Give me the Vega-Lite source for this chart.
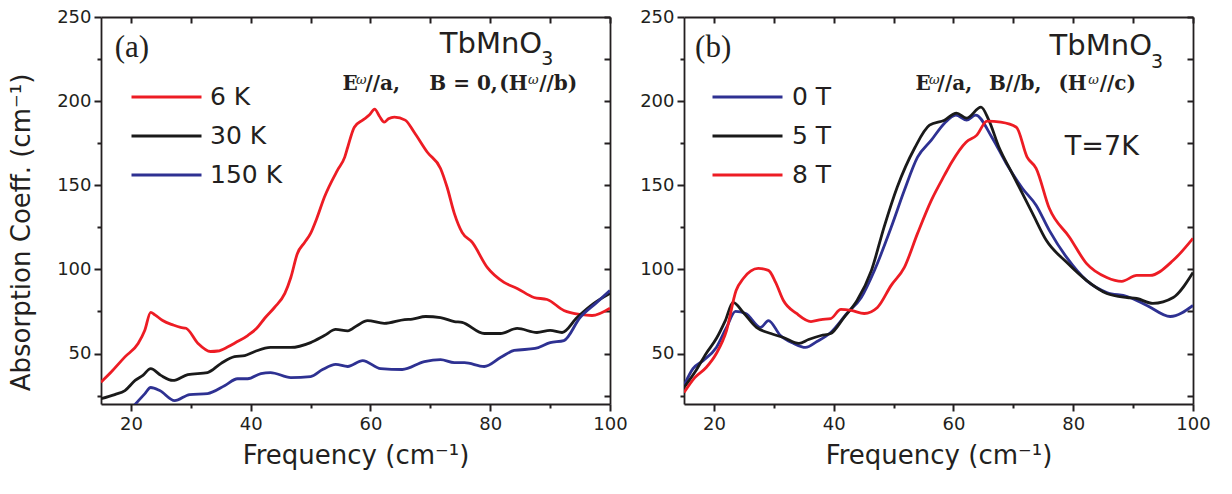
{
  "$schema": "https://vega.github.io/schema/vega-lite/v6.json",
  "padding": {"left": 8, "top": 8, "right": 10, "bottom": 5},
  "background": "white",
  "spacing": 11,
  "datasets": {
    "a": [
      {"series": "6 K", "freq": 15, "abs": 33}, {"series": "6 K", "freq": 16.7, "abs": 39}, {"series": "6 K", "freq": 19, "abs": 48}, {"series": "6 K", "freq": 21.2, "abs": 56}, {"series": "6 K", "freq": 22.3, "abs": 63.7}, {"series": "6 K", "freq": 23.3, "abs": 74.5}, {"series": "6 K", "freq": 24, "abs": 73}, {"series": "6 K", "freq": 25.3, "abs": 69.6}, {"series": "6 K", "freq": 27, "abs": 67}, {"series": "6 K", "freq": 28.3, "abs": 65.5}, {"series": "6 K", "freq": 29.2, "abs": 65}, {"series": "6 K", "freq": 31.2, "abs": 56}, {"series": "6 K", "freq": 33.3, "abs": 51.2}, {"series": "6 K", "freq": 34.5, "abs": 51.5}, {"series": "6 K", "freq": 36.2, "abs": 54}, {"series": "6 K", "freq": 37.5, "abs": 56.5}, {"series": "6 K", "freq": 39.5, "abs": 60.7}, {"series": "6 K", "freq": 41, "abs": 65}, {"series": "6 K", "freq": 42.3, "abs": 70.8}, {"series": "6 K", "freq": 44, "abs": 77.5}, {"series": "6 K", "freq": 45.7, "abs": 85.7}, {"series": "6 K", "freq": 46.7, "abs": 95.2}, {"series": "6 K", "freq": 47.8, "abs": 109.5}, {"series": "6 K", "freq": 49, "abs": 116}, {"series": "6 K", "freq": 50, "abs": 121.4}, {"series": "6 K", "freq": 51, "abs": 130}, {"series": "6 K", "freq": 52.3, "abs": 142.9}, {"series": "6 K", "freq": 54.5, "abs": 159}, {"series": "6 K", "freq": 55.7, "abs": 166.7}, {"series": "6 K", "freq": 56.2, "abs": 172.6}, {"series": "6 K", "freq": 57.3, "abs": 184.5}, {"series": "6 K", "freq": 58.7, "abs": 188.7}, {"series": "6 K", "freq": 59.8, "abs": 191.7}, {"series": "6 K", "freq": 60.7, "abs": 195.2}, {"series": "6 K", "freq": 61.5, "abs": 191}, {"series": "6 K", "freq": 62.3, "abs": 187.5}, {"series": "6 K", "freq": 63, "abs": 189.5}, {"series": "6 K", "freq": 64, "abs": 190.5}, {"series": "6 K", "freq": 65.8, "abs": 188.7}, {"series": "6 K", "freq": 67.3, "abs": 181.5}, {"series": "6 K", "freq": 69.5, "abs": 169.6}, {"series": "6 K", "freq": 71.7, "abs": 160}, {"series": "6 K", "freq": 72.8, "abs": 148.8}, {"series": "6 K", "freq": 74, "abs": 133.3}, {"series": "6 K", "freq": 75.3, "abs": 122}, {"series": "6 K", "freq": 77, "abs": 116}, {"series": "6 K", "freq": 79.5, "abs": 101.2}, {"series": "6 K", "freq": 82.3, "abs": 92.3}, {"series": "6 K", "freq": 84.5, "abs": 88.7}, {"series": "6 K", "freq": 87.3, "abs": 83.3}, {"series": "6 K", "freq": 89.5, "abs": 82.1}, {"series": "6 K", "freq": 92.3, "abs": 75.6}, {"series": "6 K", "freq": 95, "abs": 73.2}, {"series": "6 K", "freq": 97, "abs": 72.6}, {"series": "6 K", "freq": 100, "abs": 77},
      {"series": "30 K", "freq": 15, "abs": 23.2}, {"series": "30 K", "freq": 17.3, "abs": 25.6}, {"series": "30 K", "freq": 19, "abs": 28}, {"series": "30 K", "freq": 20.7, "abs": 34}, {"series": "30 K", "freq": 22, "abs": 37}, {"series": "30 K", "freq": 23.3, "abs": 41}, {"series": "30 K", "freq": 25, "abs": 37}, {"series": "30 K", "freq": 27, "abs": 34}, {"series": "30 K", "freq": 29.5, "abs": 37.5}, {"series": "30 K", "freq": 32.8, "abs": 38.7}, {"series": "30 K", "freq": 35, "abs": 44}, {"series": "30 K", "freq": 37.3, "abs": 48.2}, {"series": "30 K", "freq": 39, "abs": 48.8}, {"series": "30 K", "freq": 40.7, "abs": 51.2}, {"series": "30 K", "freq": 43.3, "abs": 53.6}, {"series": "30 K", "freq": 46.7, "abs": 53.6}, {"series": "30 K", "freq": 50, "abs": 56.5}, {"series": "30 K", "freq": 52.3, "abs": 60.7}, {"series": "30 K", "freq": 54.2, "abs": 64.3}, {"series": "30 K", "freq": 56.2, "abs": 63.5}, {"series": "30 K", "freq": 57.8, "abs": 66.7}, {"series": "30 K", "freq": 59.5, "abs": 69.6}, {"series": "30 K", "freq": 62.3, "abs": 67.9}, {"series": "30 K", "freq": 65.7, "abs": 70.2}, {"series": "30 K", "freq": 67, "abs": 70.5}, {"series": "30 K", "freq": 69.2, "abs": 72}, {"series": "30 K", "freq": 71.7, "abs": 71.4}, {"series": "30 K", "freq": 74, "abs": 69}, {"series": "30 K", "freq": 75.3, "abs": 68.5}, {"series": "30 K", "freq": 79, "abs": 61.9}, {"series": "30 K", "freq": 81.7, "abs": 61.9}, {"series": "30 K", "freq": 84.5, "abs": 64.9}, {"series": "30 K", "freq": 87.8, "abs": 62.5}, {"series": "30 K", "freq": 90, "abs": 63.7}, {"series": "30 K", "freq": 92, "abs": 62.5}, {"series": "30 K", "freq": 94.5, "abs": 71.4}, {"series": "30 K", "freq": 97.3, "abs": 79.8}, {"series": "30 K", "freq": 100, "abs": 85.7},
      {"series": "150 K", "freq": 20.5, "abs": 19}, {"series": "150 K", "freq": 22.3, "abs": 26}, {"series": "150 K", "freq": 23.3, "abs": 29.8}, {"series": "150 K", "freq": 24.8, "abs": 28}, {"series": "150 K", "freq": 27.3, "abs": 22}, {"series": "150 K", "freq": 29.8, "abs": 25.6}, {"series": "150 K", "freq": 32.8, "abs": 26.2}, {"series": "150 K", "freq": 35.7, "abs": 31}, {"series": "150 K", "freq": 37.8, "abs": 35}, {"series": "150 K", "freq": 39.5, "abs": 35}, {"series": "150 K", "freq": 41.7, "abs": 38.1}, {"series": "150 K", "freq": 43.3, "abs": 38.7}, {"series": "150 K", "freq": 46.7, "abs": 35.7}, {"series": "150 K", "freq": 50, "abs": 36.3}, {"series": "150 K", "freq": 52, "abs": 40.5}, {"series": "150 K", "freq": 54.2, "abs": 43.5}, {"series": "150 K", "freq": 56.2, "abs": 42.3}, {"series": "150 K", "freq": 58.7, "abs": 45.8}, {"series": "150 K", "freq": 61.7, "abs": 41}, {"series": "150 K", "freq": 65.3, "abs": 40.5}, {"series": "150 K", "freq": 69, "abs": 45.2}, {"series": "150 K", "freq": 71.7, "abs": 46.4}, {"series": "150 K", "freq": 74, "abs": 44.6}, {"series": "150 K", "freq": 75.7, "abs": 44.6}, {"series": "150 K", "freq": 79, "abs": 42.3}, {"series": "150 K", "freq": 81.7, "abs": 47.6}, {"series": "150 K", "freq": 84, "abs": 51.8}, {"series": "150 K", "freq": 87.5, "abs": 53}, {"series": "150 K", "freq": 90, "abs": 56.5}, {"series": "150 K", "freq": 92.3, "abs": 57.7}, {"series": "150 K", "freq": 95, "abs": 71.4}, {"series": "150 K", "freq": 97.8, "abs": 80.4}, {"series": "150 K", "freq": 100, "abs": 87.5}
    ],
    "b": [
      {"series": "0 T", "freq": 15, "abs": 31}, {"series": "0 T", "freq": 16.5, "abs": 41}, {"series": "0 T", "freq": 18.2, "abs": 45.8}, {"series": "0 T", "freq": 20.4, "abs": 53.6}, {"series": "0 T", "freq": 22.1, "abs": 65.5}, {"series": "0 T", "freq": 23.6, "abs": 75}, {"series": "0 T", "freq": 25.3, "abs": 73.8}, {"series": "0 T", "freq": 27.8, "abs": 65.5}, {"series": "0 T", "freq": 29.1, "abs": 69.6}, {"series": "0 T", "freq": 31.1, "abs": 60.7}, {"series": "0 T", "freq": 33.3, "abs": 56}, {"series": "0 T", "freq": 35.3, "abs": 53.6}, {"series": "0 T", "freq": 37.2, "abs": 57.1}, {"series": "0 T", "freq": 39.5, "abs": 62.5}, {"series": "0 T", "freq": 42.2, "abs": 73.8}, {"series": "0 T", "freq": 44.6, "abs": 83.3}, {"series": "0 T", "freq": 46.8, "abs": 99.4}, {"series": "0 T", "freq": 49.6, "abs": 125}, {"series": "0 T", "freq": 51.8, "abs": 147}, {"series": "0 T", "freq": 54, "abs": 166.7}, {"series": "0 T", "freq": 56.3, "abs": 176.8}, {"series": "0 T", "freq": 58.5, "abs": 186.9}, {"series": "0 T", "freq": 60.4, "abs": 191.7}, {"series": "0 T", "freq": 62.2, "abs": 188.7}, {"series": "0 T", "freq": 63.7, "abs": 191.7}, {"series": "0 T", "freq": 66.4, "abs": 178.6}, {"series": "0 T", "freq": 68.8, "abs": 163.1}, {"series": "0 T", "freq": 71.5, "abs": 148.2}, {"series": "0 T", "freq": 73.8, "abs": 138.1}, {"series": "0 T", "freq": 76, "abs": 123.2}, {"series": "0 T", "freq": 78.9, "abs": 107.1}, {"series": "0 T", "freq": 82.2, "abs": 93.5}, {"series": "0 T", "freq": 85.6, "abs": 86.3}, {"series": "0 T", "freq": 89, "abs": 83.9}, {"series": "0 T", "freq": 92.3, "abs": 78.6}, {"series": "0 T", "freq": 96.2, "abs": 72}, {"series": "0 T", "freq": 100, "abs": 78.6},
      {"series": "5 T", "freq": 15, "abs": 29.8}, {"series": "5 T", "freq": 17, "abs": 39.9}, {"series": "5 T", "freq": 18.7, "abs": 50}, {"series": "5 T", "freq": 20.4, "abs": 58.9}, {"series": "5 T", "freq": 21.9, "abs": 69.6}, {"series": "5 T", "freq": 23.2, "abs": 80.4}, {"series": "5 T", "freq": 24.9, "abs": 74.4}, {"series": "5 T", "freq": 27.1, "abs": 65.5}, {"series": "5 T", "freq": 29.5, "abs": 61.9}, {"series": "5 T", "freq": 31.6, "abs": 59.5}, {"series": "5 T", "freq": 34.2, "abs": 56}, {"series": "5 T", "freq": 35.8, "abs": 58.3}, {"series": "5 T", "freq": 37.9, "abs": 60.7}, {"series": "5 T", "freq": 39.5, "abs": 61.9}, {"series": "5 T", "freq": 41.7, "abs": 71.4}, {"series": "5 T", "freq": 43.9, "abs": 81.5}, {"series": "5 T", "freq": 46.3, "abs": 99.4}, {"series": "5 T", "freq": 48.4, "abs": 125}, {"series": "5 T", "freq": 50.6, "abs": 148.8}, {"series": "5 T", "freq": 53.5, "abs": 172}, {"series": "5 T", "freq": 56, "abs": 185.7}, {"series": "5 T", "freq": 58.5, "abs": 188.7}, {"series": "5 T", "freq": 60.5, "abs": 192.9}, {"series": "5 T", "freq": 62.2, "abs": 189.9}, {"series": "5 T", "freq": 64.6, "abs": 196.4}, {"series": "5 T", "freq": 65.9, "abs": 188.7}, {"series": "5 T", "freq": 67.6, "abs": 172.6}, {"series": "5 T", "freq": 69.8, "abs": 157.1}, {"series": "5 T", "freq": 73.2, "abs": 133.3}, {"series": "5 T", "freq": 75.5, "abs": 117.3}, {"series": "5 T", "freq": 78.9, "abs": 104.2}, {"series": "5 T", "freq": 82.2, "abs": 93.5}, {"series": "5 T", "freq": 85.6, "abs": 85.7}, {"series": "5 T", "freq": 89, "abs": 83.3}, {"series": "5 T", "freq": 90.6, "abs": 82.7}, {"series": "5 T", "freq": 93.3, "abs": 79.8}, {"series": "5 T", "freq": 96.7, "abs": 83.3}, {"series": "5 T", "freq": 100, "abs": 98.2},
      {"series": "8 T", "freq": 15, "abs": 26.8}, {"series": "8 T", "freq": 16.8, "abs": 35.7}, {"series": "8 T", "freq": 18.7, "abs": 41.7}, {"series": "8 T", "freq": 20.4, "abs": 50}, {"series": "8 T", "freq": 22.1, "abs": 63.7}, {"series": "8 T", "freq": 23.7, "abs": 87.5}, {"series": "8 T", "freq": 24.9, "abs": 94.6}, {"series": "8 T", "freq": 27.4, "abs": 100.6}, {"series": "8 T", "freq": 29.1, "abs": 99.4}, {"series": "8 T", "freq": 30.3, "abs": 92.3}, {"series": "8 T", "freq": 31.6, "abs": 81.5}, {"series": "8 T", "freq": 33.8, "abs": 73.8}, {"series": "8 T", "freq": 36.2, "abs": 69}, {"series": "8 T", "freq": 37.9, "abs": 70.2}, {"series": "8 T", "freq": 39.5, "abs": 70.8}, {"series": "8 T", "freq": 41.2, "abs": 76.2}, {"series": "8 T", "freq": 42.9, "abs": 75.6}, {"series": "8 T", "freq": 45.1, "abs": 73.8}, {"series": "8 T", "freq": 47.3, "abs": 77.4}, {"series": "8 T", "freq": 49.6, "abs": 90.5}, {"series": "8 T", "freq": 51.8, "abs": 101.2}, {"series": "8 T", "freq": 54, "abs": 121.4}, {"series": "8 T", "freq": 56.3, "abs": 141}, {"series": "8 T", "freq": 58.5, "abs": 156}, {"series": "8 T", "freq": 59.7, "abs": 163.7}, {"series": "8 T", "freq": 62.1, "abs": 175.6}, {"series": "8 T", "freq": 63.9, "abs": 179.8}, {"series": "8 T", "freq": 65.6, "abs": 188.1}, {"series": "8 T", "freq": 67.9, "abs": 187.5}, {"series": "8 T", "freq": 70.5, "abs": 184.5}, {"series": "8 T", "freq": 72.3, "abs": 166.7}, {"series": "8 T", "freq": 73.8, "abs": 160.1}, {"series": "8 T", "freq": 76, "abs": 136.3}, {"series": "8 T", "freq": 79.4, "abs": 119}, {"series": "8 T", "freq": 82.2, "abs": 103.6}, {"series": "8 T", "freq": 85.6, "abs": 95.2}, {"series": "8 T", "freq": 88.1, "abs": 92.9}, {"series": "8 T", "freq": 90.6, "abs": 96.4}, {"series": "8 T", "freq": 92.8, "abs": 96.4}, {"series": "8 T", "freq": 96.7, "abs": 105.4}, {"series": "8 T", "freq": 100, "abs": 118.5}
    ]
  },
  "resolve": {"scale": {"color": "independent"}, "legend": {"color": "independent"}},
  "hconcat": [
    {
      "width": 509,
      "height": 387,
      "resolve": {"axis": {"x": "independent", "y": "independent"}},
      "layer": [
        {
          "data": {"name": "a"},
          "mark": {"type": "line", "strokeWidth": 2.8, "interpolate": "monotone", "clip": true},
          "encoding": {
            "x": {"field": "freq", "type": "quantitative", "scale": {"domain": [15, 100], "nice": false, "zero": false},
              "axis": {"orient": "bottom", "values": [20, 30, 40, 50, 60, 70, 80, 90, 100], "labelExpr": "datum.value % 20 === 0 ? datum.label : ''", "ticks": true, "tickColor": "#231f20", "tickWidth": 2, "tickOpacity": 1, "tickSize": {"condition": {"test": "datum.value % 20 === 0", "value": 7}, "value": 4}, "labelPadding": 4, "labelFlush": false, "title": "Frequency (cm⁻¹)", "titlePadding": 9}},
            "y": {"field": "abs", "type": "quantitative", "scale": {"domain": [20, 250], "nice": false, "zero": false},
              "axis": {"orient": "left", "values": [25, 50, 75, 100, 125, 150, 175, 200, 225, 250], "labelExpr": "datum.value % 50 === 0 ? datum.label : ''", "ticks": true, "tickColor": "#231f20", "tickWidth": 2, "tickOpacity": 1, "tickSize": {"condition": {"test": "datum.value % 50 === 0", "value": 7}, "value": 4}, "labelPadding": 3, "labelFlush": false, "title": "Absorption Coeff. (cm⁻¹)", "titlePadding": 22, "titleY": 215}},
            "color": {"field": "series", "type": "nominal", "sort": null, "scale": {"domain": ["6 K", "30 K", "150 K"], "range": ["#ED1C24", "#1a1a1a", "#2E3192"]},
              "legend": {"orient": "none", "legendX": 46.5, "legendY": 61, "labelOffset": 24.5}}
          }
        },
        {
          "data": {"name": "a"},
          "mark": {"type": "line", "strokeOpacity": 0},
          "encoding": {
            "x": {"field": "freq", "type": "quantitative", "axis": {"orient": "top", "values": [20, 30, 40, 50, 60, 70, 80, 90, 100], "labels": false, "title": null, "ticks": true, "tickColor": "#231f20", "tickWidth": 2, "tickOpacity": 1, "tickSize": -6}},
            "y": {"field": "abs", "type": "quantitative", "axis": {"orient": "right", "values": [25, 50, 75, 100, 125, 150, 175, 200, 225, 250], "labels": false, "title": null, "ticks": true, "tickColor": "#231f20", "tickWidth": 2, "tickOpacity": 1, "tickSize": -6}}
          }
        },
        {
          "data": {"values": [{"x": 17.3, "y": 231.5, "t": "(a)"}]},
          "mark": {"type": "text", "font": "Liberation Serif", "fontSize": 31, "align": "left", "baseline": "middle", "color": "#231f20"},
          "encoding": {"x": {"field": "x", "type": "quantitative", "axis": null}, "y": {"field": "y", "type": "quantitative", "axis": null}, "text": {"field": "t"}}
        },
        {
          "data": {"values": [{"x": 88.67, "y": 228.6, "t": "TbMnO"}]},
          "mark": {"type": "text", "font": "DejaVu Sans", "fontSize": 29, "align": "right", "baseline": "alphabetic", "color": "#231f20"},
          "encoding": {"x": {"field": "x", "type": "quantitative", "axis": null}, "y": {"field": "y", "type": "quantitative", "axis": null}, "text": {"field": "t"}}
        },
        {
          "data": {"values": [{"x": 88.5, "y": 221.4, "t": "3"}]},
          "mark": {"type": "text", "font": "DejaVu Sans", "fontSize": 19, "align": "left", "baseline": "alphabetic", "color": "#231f20"},
          "encoding": {"x": {"field": "x", "type": "quantitative", "axis": null}, "y": {"field": "y", "type": "quantitative", "axis": null}, "text": {"field": "t"}}
        },
        {
          "data": {"values": [{"x": 55.33, "y": 206.5, "t": "E"}, {"x": 59.17, "y": 206.5, "t": "//a,"}, {"x": 69.83, "y": 206.5, "t": "B = 0,"}, {"x": 81.5, "y": 206.5, "t": "(H"}, {"x": 88.17, "y": 206.5, "t": "//b)"}]},
          "mark": {"type": "text", "font": "DejaVu Serif", "fontWeight": "bold", "fontSize": 20, "align": "left", "baseline": "alphabetic", "color": "#231f20"},
          "encoding": {"x": {"field": "x", "type": "quantitative", "axis": null}, "y": {"field": "y", "type": "quantitative", "axis": null}, "text": {"field": "t"}}
        },
        {
          "data": {"values": [{"x": 57.6, "y": 210, "t": "ω"}, {"x": 86.3, "y": 210, "t": "ω"}]},
          "mark": {"type": "text", "font": "DejaVu Serif", "fontStyle": "italic", "fontSize": 13, "align": "left", "baseline": "alphabetic", "color": "#231f20"},
          "encoding": {"x": {"field": "x", "type": "quantitative", "axis": null}, "y": {"field": "y", "type": "quantitative", "axis": null}, "text": {"field": "t"}}
        }
      ]
    },
    {
      "width": 509,
      "height": 387,
      "resolve": {"axis": {"x": "independent", "y": "independent"}},
      "layer": [
        {
          "data": {"name": "b"},
          "mark": {"type": "line", "strokeWidth": 2.8, "interpolate": "monotone", "clip": true},
          "encoding": {
            "x": {"field": "freq", "type": "quantitative", "scale": {"domain": [15, 100], "nice": false, "zero": false},
              "axis": {"orient": "bottom", "values": [20, 30, 40, 50, 60, 70, 80, 90, 100], "labelExpr": "datum.value % 20 === 0 ? datum.label : ''", "ticks": true, "tickColor": "#231f20", "tickWidth": 2, "tickOpacity": 1, "tickSize": {"condition": {"test": "datum.value % 20 === 0", "value": 7}, "value": 4}, "labelPadding": 4, "labelFlush": false, "title": "Frequency (cm⁻¹)", "titlePadding": 9}},
            "y": {"field": "abs", "type": "quantitative", "scale": {"domain": [20, 250], "nice": false, "zero": false},
              "axis": {"orient": "left", "values": [25, 50, 75, 100, 125, 150, 175, 200, 225, 250], "labelExpr": "datum.value % 50 === 0 ? datum.label : ''", "ticks": true, "tickColor": "#231f20", "tickWidth": 2, "tickOpacity": 1, "tickSize": {"condition": {"test": "datum.value % 50 === 0", "value": 7}, "value": 4}, "labelPadding": 3, "labelFlush": false, "title": null}},
            "color": {"field": "series", "type": "nominal", "sort": null, "scale": {"domain": ["0 T", "5 T", "8 T"], "range": ["#2E3192", "#1a1a1a", "#ED1C24"]},
              "legend": {"orient": "none", "legendX": 44.5, "legendY": 61, "labelOffset": 25.5}}
          }
        },
        {
          "data": {"name": "b"},
          "mark": {"type": "line", "strokeOpacity": 0},
          "encoding": {
            "x": {"field": "freq", "type": "quantitative", "axis": {"orient": "top", "values": [20, 30, 40, 50, 60, 70, 80, 90, 100], "labels": false, "title": null, "ticks": true, "tickColor": "#231f20", "tickWidth": 2, "tickOpacity": 1, "tickSize": -6}},
            "y": {"field": "abs", "type": "quantitative", "axis": {"orient": "right", "values": [25, 50, 75, 100, 125, 150, 175, 200, 225, 250], "labels": false, "title": null, "ticks": true, "tickColor": "#231f20", "tickWidth": 2, "tickOpacity": 1, "tickSize": -6}}
          }
        },
        {
          "data": {"values": [{"x": 16.85, "y": 231.5, "t": "(b)"}]},
          "mark": {"type": "text", "font": "Liberation Serif", "fontSize": 31, "align": "left", "baseline": "middle", "color": "#231f20"},
          "encoding": {"x": {"field": "x", "type": "quantitative", "axis": null}, "y": {"field": "y", "type": "quantitative", "axis": null}, "text": {"field": "t"}}
        },
        {
          "data": {"values": [{"x": 93.15, "y": 227.4, "t": "TbMnO"}]},
          "mark": {"type": "text", "font": "DejaVu Sans", "fontSize": 29, "align": "right", "baseline": "alphabetic", "color": "#231f20"},
          "encoding": {"x": {"field": "x", "type": "quantitative", "axis": null}, "y": {"field": "y", "type": "quantitative", "axis": null}, "text": {"field": "t"}}
        },
        {
          "data": {"values": [{"x": 93.0, "y": 219.6, "t": "3"}]},
          "mark": {"type": "text", "font": "DejaVu Sans", "fontSize": 19, "align": "left", "baseline": "alphabetic", "color": "#231f20"},
          "encoding": {"x": {"field": "x", "type": "quantitative", "axis": null}, "y": {"field": "y", "type": "quantitative", "axis": null}, "text": {"field": "t"}}
        },
        {
          "data": {"values": [{"x": 78.6, "y": 167.9, "t": "T=7K"}]},
          "mark": {"type": "text", "font": "DejaVu Sans", "fontSize": 27, "align": "left", "baseline": "alphabetic", "color": "#231f20"},
          "encoding": {"x": {"field": "x", "type": "quantitative", "axis": null}, "y": {"field": "y", "type": "quantitative", "axis": null}, "text": {"field": "t"}}
        },
        {
          "data": {"values": [{"x": 53.66, "y": 206.5, "t": "E"}, {"x": 57.35, "y": 206.5, "t": "//a,"}, {"x": 65.92, "y": 206.5, "t": "B//b,"}, {"x": 77.52, "y": 206.5, "t": "(H"}, {"x": 84.41, "y": 206.5, "t": "//c)"}]},
          "mark": {"type": "text", "font": "DejaVu Serif", "fontWeight": "bold", "fontSize": 20, "align": "left", "baseline": "alphabetic", "color": "#231f20"},
          "encoding": {"x": {"field": "x", "type": "quantitative", "axis": null}, "y": {"field": "y", "type": "quantitative", "axis": null}, "text": {"field": "t"}}
        },
        {
          "data": {"values": [{"x": 55.9, "y": 210, "t": "ω"}, {"x": 82.5, "y": 210, "t": "ω"}]},
          "mark": {"type": "text", "font": "DejaVu Serif", "fontStyle": "italic", "fontSize": 13, "align": "left", "baseline": "alphabetic", "color": "#231f20"},
          "encoding": {"x": {"field": "x", "type": "quantitative", "axis": null}, "y": {"field": "y", "type": "quantitative", "axis": null}, "text": {"field": "t"}}
        }
      ]
    }
  ],
  "config": {
    "font": "DejaVu Sans",
    "view": {"stroke": null},
    "axis": {"grid": false, "ticks": true, "domainColor": "#231f20", "domainWidth": 1.8, "tickColor": "#231f20", "tickWidth": 2, "tickOpacity": 1, "labelFont": "DejaVu Sans", "labelFontSize": 18, "labelColor": "#231f20", "titleFont": "DejaVu Sans", "titleFontSize": 26, "titleFontWeight": "normal", "titleColor": "#231f20"},
    "legend": {"title": null, "symbolType": "M-2,0H2", "symbolSize": 1225, "symbolStrokeWidth": 3, "labelFont": "DejaVu Sans", "labelFontSize": 25, "labelColor": "#231f20", "rowPadding": 7, "padding": 0}
  }
}
